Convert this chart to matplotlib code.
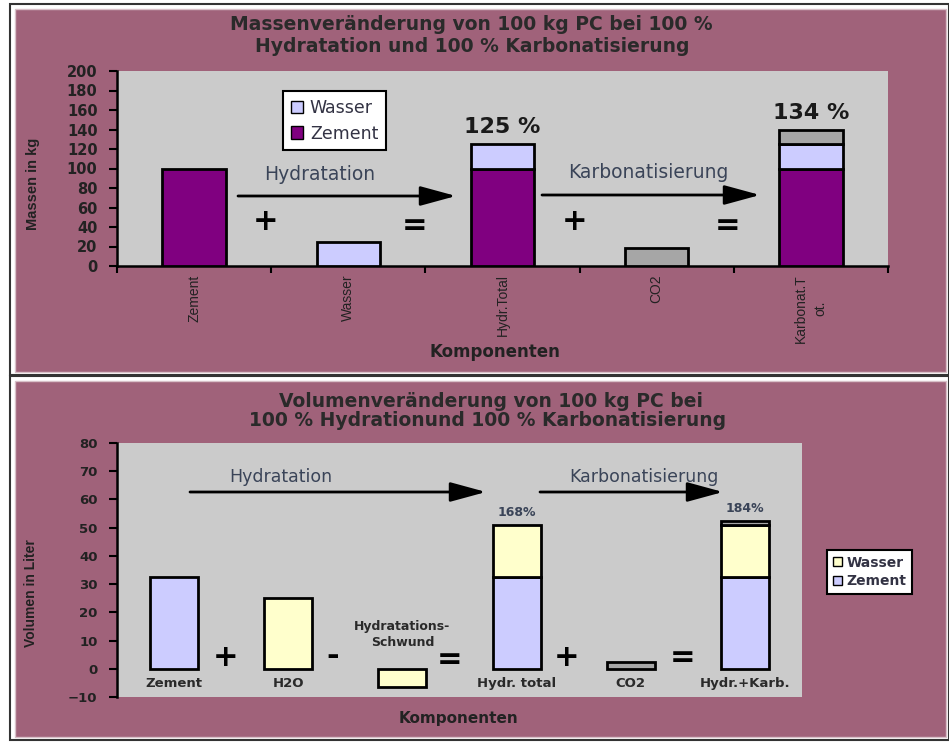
import matplotlib
matplotlib.use('Agg')
import matplotlib.pyplot as plt
import numpy as np
from matplotlib.patches import Rectangle, Patch, FancyArrowPatch

# Massen (kg)
mass_cats = ['Zement', 'Wasser', 'Hydr.Total', 'CO2', 'Karbonat.T\not.']
mass_zement = [100, 0, 100, 0, 100]
mass_wasser = [0, 25, 25, 0, 25]
mass_co2 = [0, 0, 0, 18, 15]
mass_pct = ['', '', '125 %', '', '134 %']

# Volumen (Liter)
vol_cats = ['Zement', 'H2O', '', 'Hydr. total', 'CO2', 'Hydr.+Karb.']
vol_zement = [32.5, 0, 0, 32.5, 0, 32.5]
vol_wasser = [0, 25, -6.5, 18.5, 0, 18.5]
vol_co2 = [0, 0, 0, 0, 2.5, 1.5]
vol_pct = ['', '', '', '168%', '', '184%']

PINK = '#a0627a'
GREY = '#cbcbcb'
PURPLE = '#800080'
LAVENDER = '#ccccff'
LIGHTYELLOW = '#ffffcc'
CO2GREY = '#a6a6a6'
SLATE = '#3a4458'
NARROW = ['Liberation Sans', 'DejaVu Sans']

W, H = 949, 743
fig = plt.figure(figsize=(W / 100, H / 100), dpi=100)
fig.patch.set_facecolor('white')


def fx(x):
    return x / W


def fy(y):
    return 1 - y / H


def panel(x0, y0, x1, y1):
    fig.add_artist(Rectangle((fx(x0 - 5), fy(y1 + 3)), fx(x1 - x0 + 8), (y1 - y0 + 8) / H,
                             transform=fig.transFigure, facecolor='white',
                             edgecolor='#333333', lw=1.5, zorder=0))
    fig.add_artist(Rectangle((fx(x0), fy(y1)), fx(x1 - x0), (y1 - y0) / H,
                             transform=fig.transFigure, facecolor=PINK,
                             edgecolor='#d8c0c8', lw=1, zorder=0))


panel(15, 9, 946, 372)
panel(15, 381, 946, 737)


def arrow(x0, x1, y):
    fig.add_artist(FancyArrowPatch(
        (fx(x0), fy(y)), (fx(x1), fy(y)), transform=fig.transFigure,
        arrowstyle='-|>,head_length=1.1,head_width=0.3', mutation_scale=20,
        lw=2, color='black', shrinkA=0, shrinkB=0, zorder=5))


def sign(s, x, y, size=22):
    fig.text(fx(x), fy(y), s, ha='center', va='center', fontsize=size,
             fontweight='bold', color='black', zorder=6)


# ---------------- Massenveränderung ----------------
ax1 = fig.add_axes([fx(117), fy(266), fx(888 - 117), (266 - 71) / H])
ax1.set_facecolor(GREY)
x1 = np.arange(1, len(mass_cats) + 1)
z = np.array(mass_zement, float)
w = np.array(mass_wasser, float)
c = np.array(mass_co2, float)
kw = dict(width=0.41, edgecolor='black', linewidth=2, zorder=3)
m = z != 0
ax1.bar(x1[m], z[m], color=PURPLE, **kw)
m = w != 0
ax1.bar(x1[m], w[m], bottom=z[m], color=LAVENDER, **kw)
m = c != 0
ax1.bar(x1[m], c[m], bottom=(z + w)[m], color=CO2GREY, **kw)

ax1.set_xlim(0.5, len(mass_cats) + 0.5)
ax1.set_ylim(0, 200)
ax1.set_yticks(np.arange(0, 201, 20))
ax1.set_xticks(x1)
ax1.set_xticklabels(mass_cats, rotation=90, family=NARROW, fontsize=10, color='#222222',
                    va='top', linespacing=1.5)
ax1.set_xticks(np.arange(0.5, len(mass_cats) + 1, 1), minor=True)
ax1.tick_params(axis='x', which='major', length=0, pad=6)
ax1.tick_params(axis='x', which='minor', length=5, width=1.5, direction='out')
ax1.tick_params(axis='y', length=6, width=1.5, direction='out', labelsize=10.5, pad=8)
for t in ax1.get_yticklabels():
    t.set_fontweight('bold')
    t.set_color('#222222')
for s in ['top', 'right']:
    ax1.spines[s].set_visible(False)
for s in ['left', 'bottom']:
    ax1.spines[s].set_linewidth(1.8)
ax1.set_ylabel('Massen in kg', family=NARROW, fontweight='bold', fontsize=10.5,
               color='#222222')
ax1.yaxis.set_label_coords(fx(40 - 117) / fx(888 - 117), (266 - 184) / (266 - 71))

for xi, txt, top in zip(x1, mass_pct, z + w + c):
    if txt:
        ax1.annotate(txt, (xi, top), xytext=(0, 5), textcoords='offset points',
                     ha='center', va='bottom', fontsize=16, fontweight='bold', color='#1a1a1a')

leg1 = ax1.legend(handles=[Patch(facecolor=LAVENDER, edgecolor='black', label='Wasser'),
                           Patch(facecolor=PURPLE, edgecolor='black', label='Zement')],
                  loc='upper left', bbox_to_anchor=(fx(283), fy(91)), bbox_transform=fig.transFigure,
                  borderaxespad=0, fancybox=False, framealpha=1, edgecolor='black', fontsize=12.5,
                  handlelength=0.7, handleheight=0.7, handletextpad=0.4,
                  borderpad=0.45, labelspacing=0.45)
leg1.get_frame().set_linewidth(1.5)
for t in leg1.get_texts():
    t.set_color('#333344')

fig.text(fx(471), fy(25), 'Massenveränderung von 100 kg PC bei 100 %', ha='center', va='center',
         fontsize=13.5, fontweight='bold', color='#2a2a2a')
fig.text(fx(472), fy(47), 'Hydratation und 100 % Karbonatisierung', ha='center', va='center',
         fontsize=13.5, fontweight='bold', color='#2a2a2a')
fig.text(fx(495), fy(352), 'Komponenten', ha='center', va='center',
         fontsize=12, fontweight='bold', color='#222222')

fig.text(fx(320), fy(175), 'Hydratation', ha='center', va='center', fontsize=13.5, color=SLATE)
fig.text(fx(648), fy(172), 'Karbonatisierung', ha='center', va='center', fontsize=13.5, color=SLATE)
arrow(238, 456, 196)
arrow(542, 760, 195)
sign('+', 266, 222)
sign('=', 415, 225)
sign('+', 575, 222)
sign('=', 728, 225)

# ---------------- Volumenveränderung ----------------
ax2 = fig.add_axes([fx(117), fy(697), fx(802 - 117), (697 - 443) / H])
ax2.set_facecolor(GREY)
x2 = np.arange(1, len(vol_cats) + 1)
vz = np.array(vol_zement, float)
vw = np.array(vol_wasser, float)
vc = np.array(vol_co2, float)
kw = dict(width=0.42, edgecolor='black', linewidth=2, zorder=3)
m = vz != 0
ax2.bar(x2[m], vz[m], color=LAVENDER, **kw)
m = vw != 0
ax2.bar(x2[m], vw[m], bottom=vz[m], color=LIGHTYELLOW, **kw)
m = vc != 0
ax2.bar(x2[m], vc[m], bottom=(vz + vw)[m], color=CO2GREY, **kw)

ax2.set_xlim(0.5, len(vol_cats) + 0.5)
ax2.set_ylim(-10, 80)
ax2.set_yticks(np.arange(-10, 81, 10))
ax2.set_xticks([])
ax2.tick_params(axis='y', length=6, width=1.5, direction='out', labelsize=9.5, pad=8)
for t in ax2.get_yticklabels():
    t.set_fontweight('bold')
    t.set_color('#222222')
for s in ['top', 'right', 'bottom']:
    ax2.spines[s].set_visible(False)
ax2.spines['left'].set_linewidth(1.8)
ax2.set_ylabel('Volumen in Liter', family=NARROW, fontweight='bold', fontsize=10,
               color='#222222')
ax2.yaxis.set_label_coords(fx(38 - 117) / fx(802 - 117), (697 - 593) / (697 - 443))

for xi, lab in zip(x2, vol_cats):
    if lab:
        ax2.text(xi, -5.3, lab, ha='center', va='center', fontsize=9.5,
                 fontweight='bold', color='#2a2a2a')
ax2.text(3, 12, 'Hydratations-\nSchwund', ha='center', va='center', fontsize=9,
         fontweight='bold', color='#2a2a2a', linespacing=1.3)

for xi, txt, top in zip(x2, vol_pct, vz + vw + vc):
    if txt:
        ax2.annotate(txt, (xi, top), xytext=(0, 4), textcoords='offset points',
                     ha='center', va='bottom', fontsize=9, fontweight='bold', color=SLATE)

leg2 = fig.legend(handles=[Patch(facecolor=LIGHTYELLOW, edgecolor='black', label='Wasser'),
                           Patch(facecolor=LAVENDER, edgecolor='black', label='Zement')],
                  loc='upper left', bbox_to_anchor=(fx(827), fy(550)), borderaxespad=0,
                  fancybox=False, framealpha=1, edgecolor='black', fontsize=10,
                  handlelength=0.7, handleheight=0.6, handletextpad=0.3,
                  borderpad=0.4, labelspacing=0.35)
leg2.get_frame().set_linewidth(1.5)
for t in leg2.get_texts():
    t.set_fontweight('bold')
    t.set_color('#333344')

fig.text(fx(491), fy(401), 'Volumenveränderung von 100 kg PC bei', ha='center', va='center',
         fontsize=13.5, fontweight='bold', color='#2a2a2a')
fig.text(fx(488), fy(421), '100 % Hydrationund 100 % Karbonatisierung', ha='center', va='center',
         fontsize=13.5, fontweight='bold', color='#2a2a2a')
fig.text(fx(459), fy(718), 'Komponenten', ha='center', va='center',
         fontsize=11, fontweight='bold', color='#222222')

fig.text(fx(281), fy(477), 'Hydratation', ha='center', va='center', fontsize=12.5, color=SLATE)
fig.text(fx(644), fy(477), 'Karbonatisierung', ha='center', va='center', fontsize=12.5, color=SLATE)
arrow(190, 486, 492)
arrow(540, 723, 492)
sign('+', 226, 658)
sign('-', 333, 657)
sign('=', 450, 660)
sign('+', 567, 658)
sign('=', 683, 657)

fig.savefig('out.png', dpi=100)
